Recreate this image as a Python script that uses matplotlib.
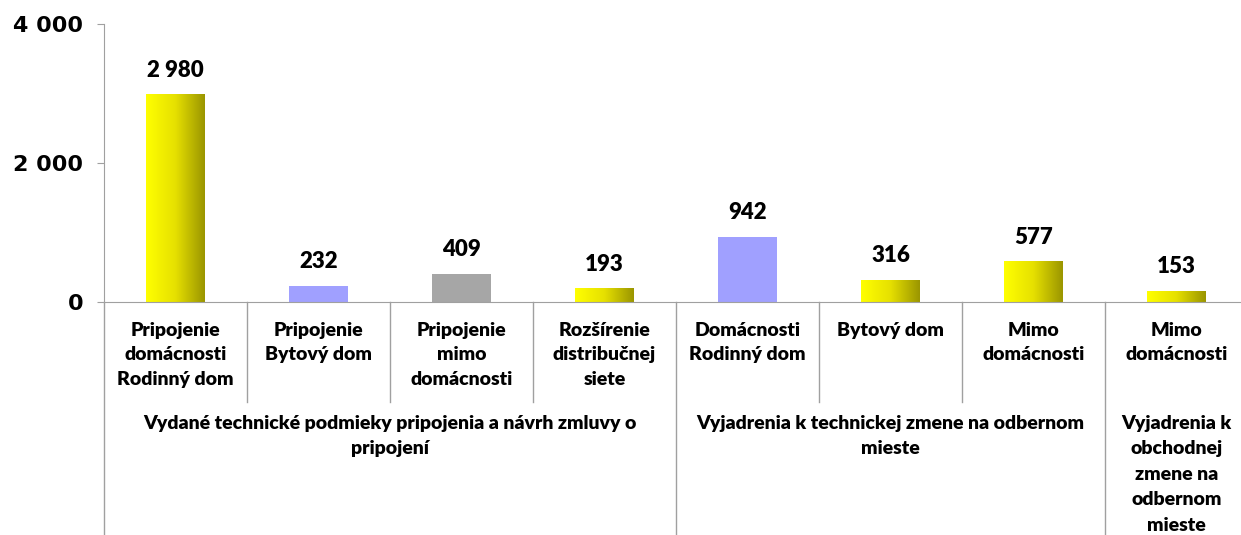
import numpy as np
import matplotlib
matplotlib.use("Agg")
import matplotlib.pyplot as plt
from matplotlib.colors import LinearSegmentedColormap
from matplotlib.ticker import FuncFormatter

categories = ["Pripojenie\ndomácnosti\nRodinný dom", "Pripojenie\nBytový dom",
              "Pripojenie\nmimo\ndomácnosti", "Rozšírenie\ndistribučnej\nsiete",
              "Domácnosti\nRodinný dom", "Bytový dom", "Mimo\ndomácnosti",
              "Mimo\ndomácnosti"]
values = [2980, 232, 409, 193, 942, 316, 577, 153]
groups = ["Vydané technické podmieky pripojenia a návrh zmluvy o\npripojení",
          "Vyjadrenia k technickej zmene na odbernom\nmieste",
          "Vyjadrenia k\nobchodnej\nzmene na\nodbernom\nmieste"]
group_sizes = [4, 3, 1]
fills = ["grad", "#A0A0FF", "#A6A6A6", "grad", "#A0A0FF", "grad", "grad", "grad"]

W, H = 1241, 535
fig = plt.figure(figsize=(W / 100, H / 100), dpi=100)
ax = fig.add_axes([104 / W, (H - 302) / H, (1248 - 104) / W, (302 - 24) / H])

yellow = LinearSegmentedColormap.from_list("y", ["#FFFF00", "#E6E000", "#9A9500"])
grad = np.linspace(0, 1, 256).reshape(1, -1)
x = np.arange(len(values))
bw = 0.41
for xi, v, f in zip(x, values, fills):
    if f == "grad":
        ax.imshow(grad, extent=[xi - bw / 2, xi + bw / 2, 0, v], aspect="auto",
                  cmap=yellow, zorder=2, interpolation="bilinear")
    else:
        ax.bar(xi, v, width=bw, color=f, zorder=2)
    ax.annotate(f"{v:,}".replace(",", " "), (xi, v), xytext=(0, 10),
                textcoords="offset points", ha="center", va="bottom",
                fontsize=16, fontweight="heavy", family="Lato")

ax.set_xlim(-0.5, len(values) - 0.5)
ax.set_ylim(0, 4000)
ax.set_yticks([0, 2000, 4000])
ax.yaxis.set_major_formatter(FuncFormatter(lambda v, p: f"{int(v):,}".replace(",", " ")))
for lab in ax.get_yticklabels():
    lab.set_fontweight("bold")
    lab.set_fontsize(16)
ax.tick_params(axis="y", length=5, color="#A0A0A0", pad=10)
ax.set_xticks([])
for s in ["top", "right"]:
    ax.spines[s].set_visible(False)
for s in ["left", "bottom"]:
    ax.spines[s].set_color("#A0A0A0")

trans = ax.get_xaxis_transform()
lc = "#A0A0A0"
bottom_y = -(H - 302) / 278
row_y = -(402 - 302) / 278
# left axis extension
ax.plot([-0.5, -0.5], [0, bottom_y], transform=trans, color=lc, lw=1, clip_on=False)
bounds = np.cumsum(group_sizes)[:-1] - 0.5
for b in np.arange(0.5, len(values) - 0.5):
    yb = bottom_y if b in bounds else row_y
    ax.plot([b, b], [0, yb], transform=trans, color=lc, lw=1, clip_on=False)

for xi, c in zip(x, categories):
    ax.text(xi, -(322 - 302) / 278, c, transform=trans, ha="center", va="top",
            fontsize=14, fontweight="heavy", family="Lato", linespacing=1.52)

start = 0
for g, n in zip(groups, group_sizes):
    cx = start + (n - 1) / 2
    ax.text(cx, -(415 - 302) / 278, g, transform=trans, ha="center", va="top",
            fontsize=14, fontweight="heavy", family="Lato", linespacing=1.6)
    start += n

fig.savefig("out.png", dpi=100)
